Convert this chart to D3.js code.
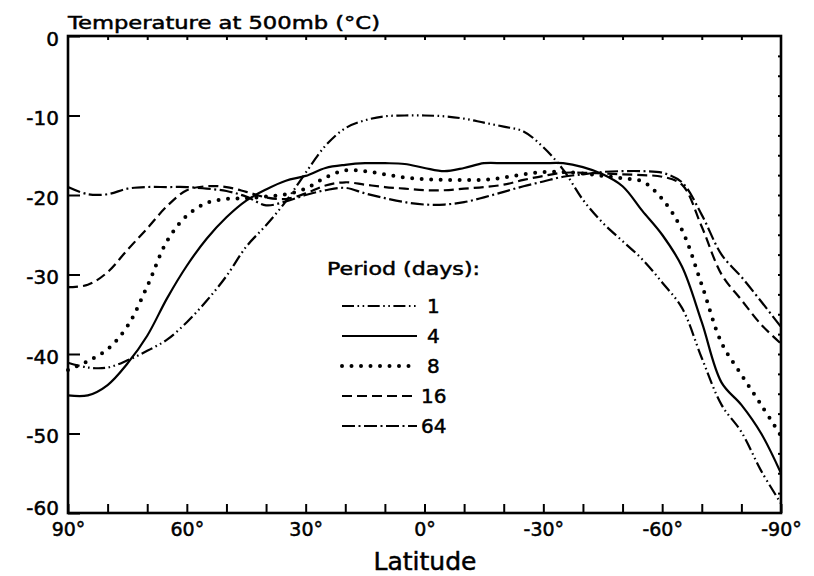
<!DOCTYPE html>
<html>
    <head>
        <meta charset="utf-8">
        <script src="https://cdn.jsdelivr.net/npm/d3@7/dist/d3.min.js"></script>
        <style type="text/css">
            body{
                margin: 0px;
                padding: 0;
                background-color: #fff;
            }
            text{ font-family: "DejaVu Sans", sans-serif; fill: #000; stroke: #000; stroke-width: 0.5px; }
        </style>
    </head>

    <body>
        <svg id='chart' width='814' height='576'></svg>

        <script>
        /* data: latitude every 5 degrees */
            const latitudes = [90,85,80,75,70,65,60,55,50,45,40,35,30,25,20,15,10,5,0,
                               -5,-10,-15,-20,-25,-30,-35,-40,-45,-50,-55,-60,-65,-70,-75,-80,-85,-90];
            const period1  = [-41.1,-41.7,-41.7,-40.8,-39.6,-38.2,-36,-33.3,-30.2,-26.5,-23.8,-20.8,-17.2,-13.8,-11.6,-10.6,-10.1,-10,-10,
                              -10.1,-10.4,-10.9,-11.4,-12,-14,-16.8,-20.6,-23.5,-25.8,-28.1,-31,-34.2,-40.5,-46.4,-49.8,-54.7,-58.8];
            const period4  = [-45.2,-45.2,-43.9,-41.2,-37.7,-33,-28.9,-25.5,-22.8,-20.7,-19.3,-18.2,-17.6,-16.6,-16.2,-16,-16,-16.1,-16.6,
                              -17,-16.6,-16,-16,-16,-16,-16,-16.5,-17.4,-18.9,-22,-25,-29,-36,-43.6,-46.4,-50,-55];
            const period8  = [-42,-40.9,-39.4,-36.5,-31.5,-25.8,-22.6,-21,-20.5,-20.4,-20.2,-19.9,-19.2,-17.8,-16.9,-17,-17.4,-17.8,-18,
                              -18.1,-18.1,-18.1,-17.8,-17.4,-17.1,-17.1,-17.3,-17.6,-17.9,-18.3,-20.5,-24.4,-31.3,-38.6,-42.6,-46.4,-50.3];
            const period16 = [-31.6,-31.3,-29.7,-26.9,-24.2,-21.4,-19.4,-18.9,-19,-19.6,-20.3,-20.5,-19.8,-18.8,-18.4,-18.7,-19,-19.2,-19.4,
                              -19.4,-19.2,-19,-18.7,-18.1,-17.6,-17.2,-17.2,-17.3,-17.4,-17.5,-17.7,-18.7,-24,-30,-33.2,-36.3,-38.7];
            const period64 = [-19,-19.9,-19.9,-19.2,-19,-19,-19,-19.2,-19.5,-20.2,-21.3,-20.8,-20,-19.4,-19.1,-19.8,-20.4,-20.9,-21.2,
                              -21.2,-20.9,-20.3,-19.6,-18.9,-18.3,-17.7,-17.4,-17.1,-17,-17,-17.2,-18.4,-22.5,-27.5,-30.3,-33.4,-36.6];
            const periodLabels = ['1','4','8','16','64'];
            const xTickValues = [90,60,30,0,-30,-60,-90];
            const xTickLabels = ['90°','60°','30°','0°','-30°','-60°','-90°'];
            const yTickValues = [0,-10,-20,-30,-40,-50,-60];

            const series = [period1, period4, period8, period16, period64];
            const dashes = ['12 3.5 1.6 3.5 1.6 3.5', null, '0 9.5', '10 5', '13 3.5 2 3.5'];

            const svg = d3.select('#chart');
            const x = d3.scaleLinear().domain([90,-90]).range([68,781]);
            const y = d3.scaleLinear().domain([0,-60]).range([36,513]);

        /* axes */
            const xAxis = d3.axisBottom(x)
                .tickValues(d3.range(90,-91,-10))
                .tickSizeInner(-9).tickSizeOuter(0).tickPadding(10)
                .tickFormat(d => { const i = xTickValues.indexOf(d); return i < 0 ? '' : xTickLabels[i]; });
            const gx = svg.append('g').attr('transform','translate(0,513)').call(xAxis);
            gx.selectAll('text').attr('font-size',19);

            svg.append('g').attr('transform','translate(0,36)')
                .call(d3.axisTop(x).tickValues(d3.range(80,-81,-10)).tickSizeInner(-4).tickSizeOuter(0).tickFormat(''));

            const yAxis = d3.axisLeft(y)
                .tickValues(yTickValues)
                .tickSizeInner(-12).tickSizeOuter(0).tickPadding(9)
                .tickFormat(d => String(d));
            const gy = svg.append('g').attr('transform','translate(68,0)').call(yAxis);
            gy.selectAll('text').attr('font-size',20)
                .attr('dy', d => d == -60 ? '0.05em' : '0.45em');

            svg.append('g').attr('transform','translate(781,0)')
                .call(d3.axisRight(y).tickValues(d3.range(-2.5,-60,-2.5)).tickSizeInner(-3).tickSizeOuter(0).tickFormat(''));

            svg.selectAll('.domain').remove();
            svg.selectAll('.tick line').attr('stroke','#000').attr('stroke-width',2);

            svg.append('rect')
                .attr('x', x(90)).attr('y', y(0))
                .attr('width', x(-90) - x(90)).attr('height', y(-60) - y(0))
                .attr('fill','none').attr('stroke','#000').attr('stroke-width',2.6);

        /* curves */
            const line = d3.line()
                .x((d,i) => x(latitudes[i]))
                .y(d => y(d))
                .curve(d3.curveCatmullRom.alpha(0.5));

            series.forEach((s,i) => {
                svg.append('path')
                    .attr('d', line(s))
                    .attr('fill','none')
                    .attr('stroke','#000')
                    .attr('stroke-width', i == 2 ? 4 : 2.2)
                    .attr('stroke-linecap', i == 2 ? 'round' : 'butt')
                    .attr('stroke-dasharray', dashes[i]);
            });

        /* titles */
            svg.append('text').attr('x',68).attr('y',29)
                .attr('font-size',18).attr('stroke-width',0.7)
                .attr('textLength',312).attr('lengthAdjust','spacingAndGlyphs')
                .text('Temperature at 500mb (°C)');
            svg.append('text').attr('x',425).attr('y',570)
                .attr('font-size',25).attr('text-anchor','middle')
                .text('Latitude');

        /* legend */
            svg.append('text').attr('x',327).attr('y',275)
                .attr('font-size',18).attr('stroke-width',0.7)
                .attr('textLength',153).attr('lengthAdjust','spacingAndGlyphs')
                .text('Period (days):');
            periodLabels.forEach((p,i) => {
                const ly = 306 + i * 30;
                svg.append('line')
                    .attr('x1',342).attr('x2',417).attr('y1',ly).attr('y2',ly)
                    .attr('stroke','#000')
                    .attr('stroke-width', i == 2 ? 4 : 2.2)
                    .attr('stroke-linecap', i == 2 ? 'round' : 'butt')
                    .attr('stroke-dasharray', dashes[i]);
                svg.append('text').attr('x', p.length > 1 ? 421 : 427).attr('y', ly + 7)
                    .attr('font-size',20).text(p);
            });
        </script>
    </body>
</html>
